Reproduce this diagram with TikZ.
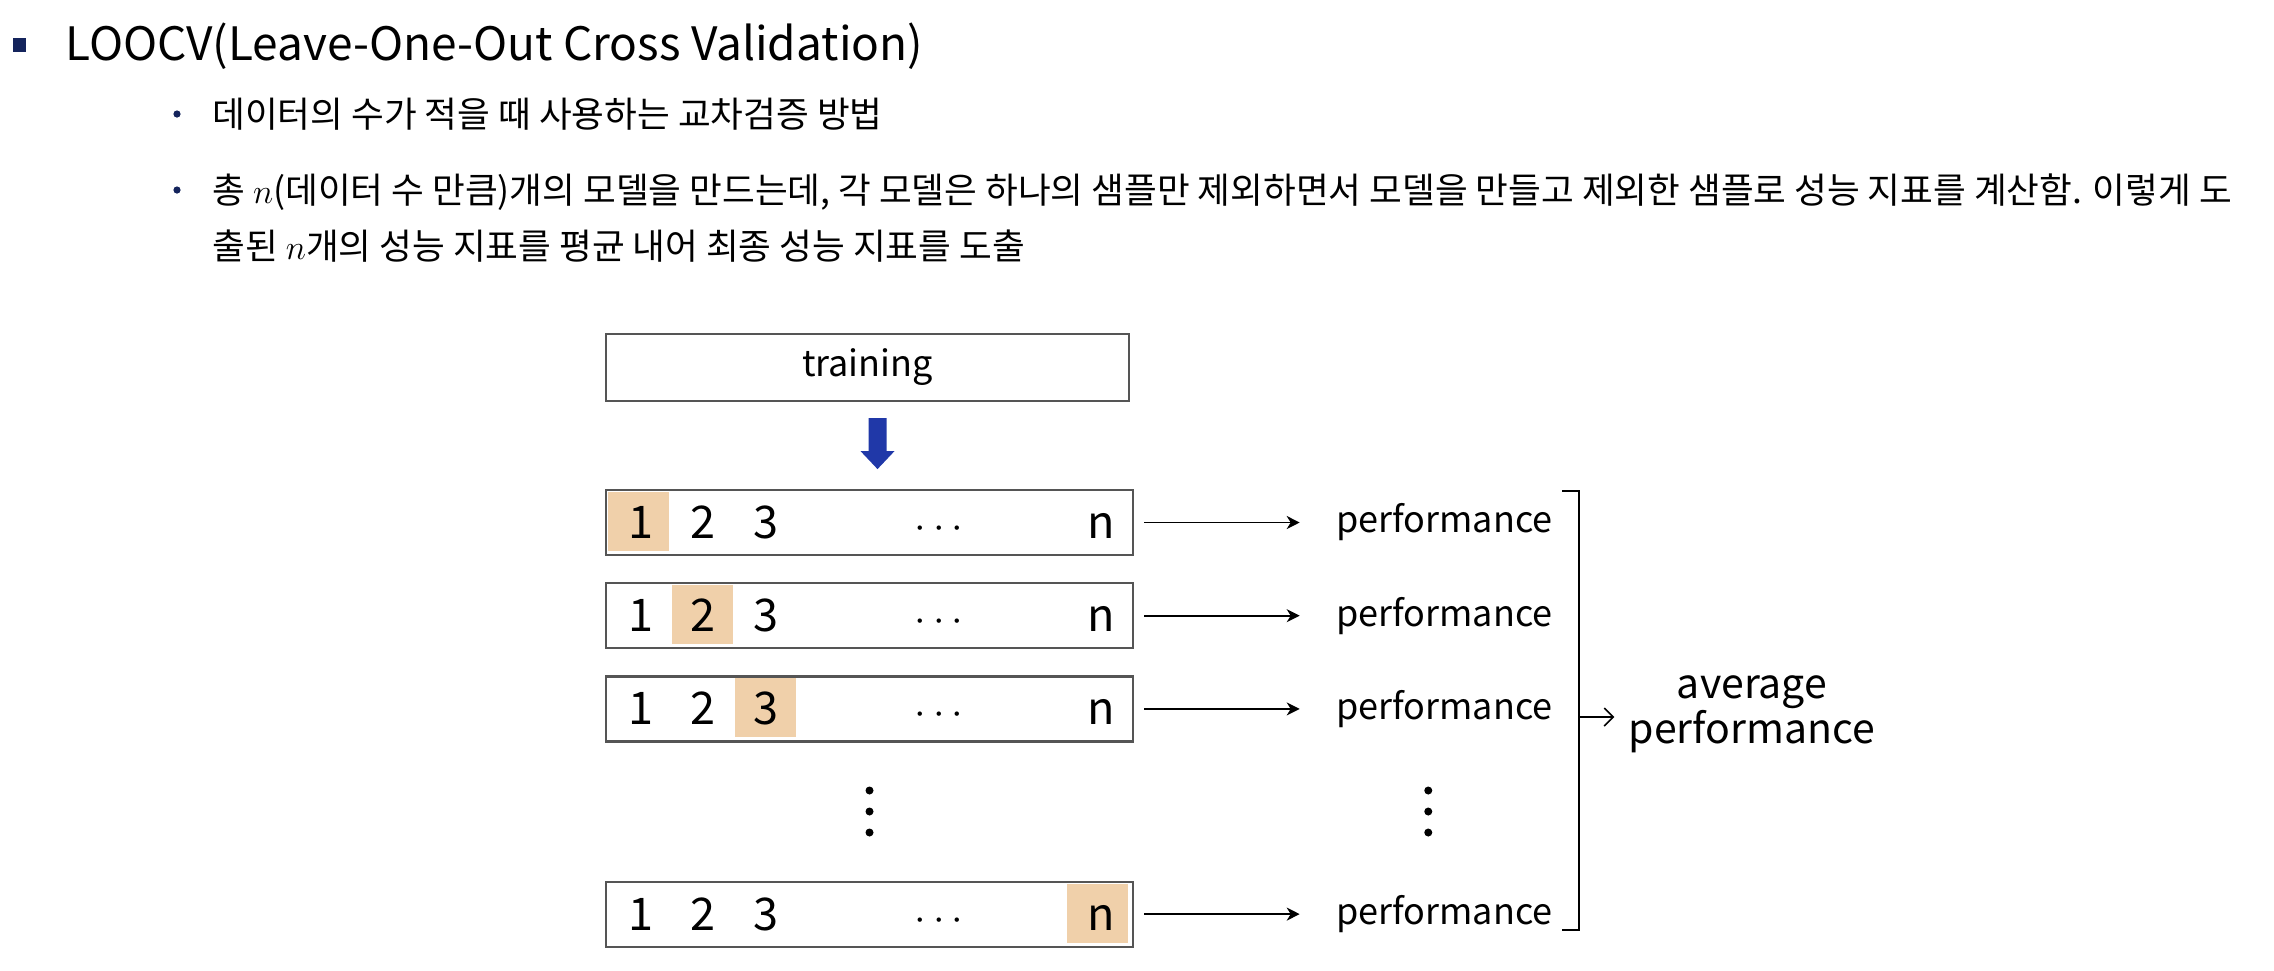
\documentclass[tikz,border=0pt]{standalone}
\usepackage{fontspec}
\setmainfont{Noto Sans CJK KR}
\usetikzlibrary{arrows.meta,positioning,calc}
\definecolor{loonavy}{RGB}{20,36,92}
\definecolor{loopeach}{RGB}{240,208,170}
\definecolor{looblue}{RGB}{32,56,168}
\definecolor{loogray}{RGB}{85,85,85}

\begin{document}
\begin{tikzpicture}[x=0.5pt,y=-0.5pt,
    title/.style={anchor=base west,inner sep=0pt,font=\fontsize{23}{27}\selectfont},
    body/.style={anchor=base west,inner sep=0pt,font=\fontsize{17.8}{21}\selectfont},
    trainbox/.style={draw=loogray,line width=1.1pt,minimum width=261.5pt,minimum height=33.5pt,inner sep=0pt,font=\fontsize{18}{20}\selectfont},
    fold/.style={draw=loogray,line width=1.1pt,minimum width=263.5pt,minimum height=32.5pt,inner sep=0pt},
    slot/.style={fill=loopeach},
    digit/.style={anchor=base,inner sep=0pt,font=\fontsize{22.5}{24}\selectfont},
    perf/.style={inner sep=0pt,font=\fontsize{18}{20}\selectfont},
    avg/.style={inner sep=0pt,align=center,font=\fontsize{20.5}{22.5}\selectfont},
    arr/.style={-{Stealth[length=6.5pt,width=6.5pt,inset=2pt]},line width=0.85pt},
    gather/.style={-{Straight Barb[length=4.5pt,width=9pt]},line width=0.85pt}
  ]
  \useasboundingbox (0,0) rectangle (2274,970);

  % heading and bullets
  \fill[loonavy] (13,38) rectangle (26,52);
  \node[title] (head) at (65,60) {LOOCV(Leave-One-Out Cross Validation)};
  \node[body] (line1) at (212,127) {데이터의 수가 적을 때 사용하는 교차검증 방법};
  \node[body] (line2) at (212,203) {총 $n$(데이터 수 만큼)개의 모델을 만드는데, 각 모델은 하나의 샘플만 제외하면서 모델을 만들고 제외한 샘플로 성능 지표를 계산함. 이렇게 도};
  \node[body] (line3) at (212,259) {출된 $n$개의 성능 지표를 평균 내어 최종 성능 지표를 도출};
  \foreach \l in {line1,line2}
    \fill[loonavy] ($(\l.base west)+(-35,-13)$) circle (1.8pt);

  % training block and folds
  \node[trainbox] (train) at (867.5,367.5) {training};
  \coordinate (drop) at ($(train.south)+(1,16)$);
  \fill[looblue] (drop) -- ++(18,0) -- ++(0,33) -- ++(8,0) -- ++(-17,18) -- ++(-17,-18) -- ++(8,0) -- cycle;

  \node[fold] (row1) at (869.5,522.5) {};
  \node[fold,below=13pt of row1] (row2) {};
  \node[fold,below=13pt of row2] (row3) {};
  \node[fold,below=69pt of row3] (rown) {};

  \foreach \r/\off in {row1/3,row2/67,row3/130,rown/462}
    \fill[slot] ($(\r.north west)+(\off,3)$) rectangle ++(61,59);

  \foreach \r in {row1,row2,row3,rown} {
    \node[digit] (\r-a) at ($(\r.west)+(36,16)$) {1};
    \node[digit] (\r-b) at ($(\r.west)+(98,16)$) {2};
    \node[digit] (\r-c) at ($(\r.west)+(161,16)$) {3};
    \node[digit] (\r-d) at ($(\r.west)+(334,16)$) {$\cdots$};
    \node[digit] (\r-e) at ($(\r.west)+(496,16)$) {n};
  }

  % performances
  \node[perf,right=100.8pt of row1] (perf1) {performance};
  \node[perf,right=100.8pt of row2] (perf2) {performance};
  \node[perf,right=100.8pt of row3] (perf3) {performance};
  \node[perf,right=100.8pt of rown] (perfn) {performance};
  \foreach \k in {1,2,3,n}
    \draw[arr,shorten <=5pt,shorten >=18pt] (row\k.east) -- (perf\k.west);

  \coordinate (vl) at ($(row3.south)!0.5!(rown.north)$);
  \coordinate (vr) at ($(perf3.south)!0.5!(perfn.north)+(-16,0)$);
  \foreach \c in {vl,vr}
    \foreach \dy in {-21,0,21}
      \fill ($(\c)+(0,\dy)$) circle (2pt);

  % bracket to average
  \coordinate (brt) at (1579,491);
  \coordinate (brb) at (1579,930);
  \coordinate (brm) at (1579,717);
  \draw[line width=0.85pt] ($(brt)+(-17,0)$) -- (brt) -- (brb) -- ++(-17,0);
  \node[avg] (avg) at (1752,714) {average\\performance};
  \draw[gather,shorten >=7pt] (brm) -- (brm -| avg.west);
\end{tikzpicture}
\end{document}
